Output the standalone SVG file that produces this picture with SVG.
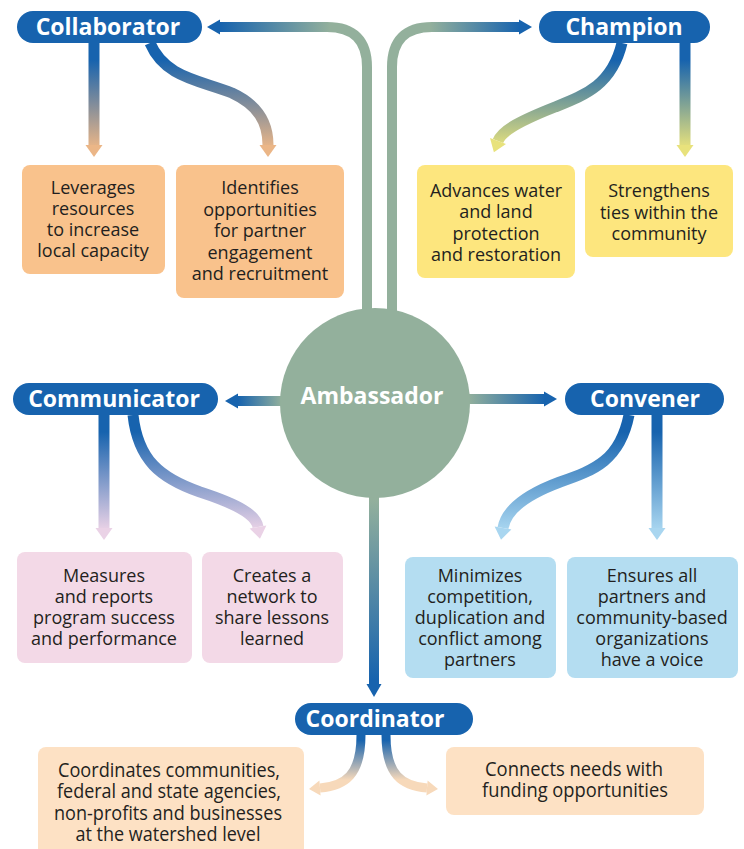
<svg xmlns="http://www.w3.org/2000/svg" width="744" height="849" viewBox="0 0 744 849">
<style>
.pill{fill:#1763ae}
.pt{font-family:"Open Sans","Liberation Sans",sans-serif;font-weight:700;font-size:23px;fill:#ffffff;text-anchor:middle}
.bt{font-family:"Open Sans","Liberation Sans",sans-serif;font-weight:500;font-size:18px;fill:#231f20;text-anchor:middle}
.ct{font-family:"Open Sans","Liberation Sans",sans-serif;font-weight:500;font-size:20px;fill:#231f20;text-anchor:middle}
.or{fill:#f9c28c}.ye{fill:#fde67e}.pk{fill:#f3d9e7}.lb{fill:#b4ddf1}.pe{fill:#fde1c4}
.main{fill:none;stroke-width:10}
.sub{fill:none;stroke-width:11}
.cs{fill:none;stroke-width:9}
</style>
<defs>
<linearGradient id="gL" gradientUnits="userSpaceOnUse" x1="220" y1="0" x2="330" y2="0"><stop offset="0" stop-color="#1763ae"/><stop offset="1" stop-color="#93b09c"/></linearGradient>
<linearGradient id="gR" gradientUnits="userSpaceOnUse" x1="430" y1="0" x2="520" y2="0"><stop offset="0" stop-color="#93b09c"/><stop offset="1" stop-color="#1763ae"/></linearGradient>
<linearGradient id="gCm" gradientUnits="userSpaceOnUse" x1="282" y1="0" x2="238" y2="0"><stop offset="0" stop-color="#93b09c"/><stop offset="1" stop-color="#1763ae"/></linearGradient>
<linearGradient id="gCv" gradientUnits="userSpaceOnUse" x1="468" y1="0" x2="545" y2="0"><stop offset="0" stop-color="#93b09c"/><stop offset="1" stop-color="#1763ae"/></linearGradient>
<linearGradient id="gCo" gradientUnits="userSpaceOnUse" x1="0" y1="500" x2="0" y2="680"><stop offset="0" stop-color="#93b09c"/><stop offset="1" stop-color="#1763ae"/></linearGradient>
<linearGradient id="gOr" gradientUnits="userSpaceOnUse" x1="0" y1="60" x2="0" y2="148"><stop offset="0" stop-color="#1763ae"/><stop offset="1" stop-color="#ebb687"/></linearGradient>
<linearGradient id="gYe" gradientUnits="userSpaceOnUse" x1="0" y1="60" x2="0" y2="148"><stop offset="0" stop-color="#1763ae"/><stop offset="1" stop-color="#e8e27c"/></linearGradient>
<linearGradient id="gPk" gradientUnits="userSpaceOnUse" x1="0" y1="432" x2="0" y2="530"><stop offset="0" stop-color="#1763ae"/><stop offset="1" stop-color="#ead2e6"/></linearGradient>
<linearGradient id="gLb" gradientUnits="userSpaceOnUse" x1="0" y1="432" x2="0" y2="530"><stop offset="0" stop-color="#1763ae"/><stop offset="1" stop-color="#a9d6f0"/></linearGradient>
<linearGradient id="gPe" gradientUnits="userSpaceOnUse" x1="0" y1="740" x2="0" y2="780"><stop offset="0" stop-color="#1763ae"/><stop offset="1" stop-color="#f7d9ba"/></linearGradient>
<marker id="aBlue" markerUnits="userSpaceOnUse" markerWidth="16" markerHeight="18" refX="0" refY="8" orient="auto" overflow="visible"><path d="M0,0.5 L13,8 L0,15.5 z" fill="#1763ae"/></marker>
<marker id="aOr" markerUnits="userSpaceOnUse" markerWidth="16" markerHeight="18" refX="0" refY="8.5" orient="auto" overflow="visible"><path d="M0,0 L12,8.5 L0,17 z" fill="#ebb687"/></marker>
<marker id="aYe" markerUnits="userSpaceOnUse" markerWidth="16" markerHeight="18" refX="0" refY="8.5" orient="auto" overflow="visible"><path d="M0,0 L12,8.5 L0,17 z" fill="#e8e27c"/></marker>
<marker id="aPk" markerUnits="userSpaceOnUse" markerWidth="16" markerHeight="18" refX="0" refY="8.5" orient="auto" overflow="visible"><path d="M0,0 L12,8.5 L0,17 z" fill="#ead2e6"/></marker>
<marker id="aLb" markerUnits="userSpaceOnUse" markerWidth="16" markerHeight="18" refX="0" refY="8.5" orient="auto" overflow="visible"><path d="M0,0 L12,8.5 L0,17 z" fill="#a9d6f0"/></marker>
<marker id="aPe" markerUnits="userSpaceOnUse" markerWidth="16" markerHeight="18" refX="0" refY="7.5" orient="auto" overflow="visible"><path d="M0,0 L11,7.5 L0,15 z" fill="#f7d9ba"/></marker>
</defs>
<rect width="744" height="849" fill="#ffffff"/>
<g id="connectors">
<path class="main" stroke="url(#gL)" d="M367,312 V67 Q367,27 327,27 H220" marker-end="url(#aBlue)"/>
<path class="main" stroke="url(#gR)" d="M392,312 V67 Q392,27 432,27 H519" marker-end="url(#aBlue)"/>
<path class="main" stroke="url(#gCm)" d="M284,401 H238" marker-end="url(#aBlue)"/>
<path class="main" stroke="url(#gCv)" d="M466,399 H544" marker-end="url(#aBlue)"/>
<path class="main" stroke="url(#gCo)" d="M374,494 V684" marker-end="url(#aBlue)"/>
<path class="sub" stroke="url(#gOr)" d="M94,43 V145" marker-end="url(#aOr)"/>
<path class="sub" stroke="url(#gOr)" d="M150,43 C165,78 200,80 232,93 C258,105 268,122 268,145" marker-end="url(#aOr)"/>
<path class="sub" stroke="url(#gYe)" d="M685,43 V145" marker-end="url(#aYe)"/>
<path class="sub" stroke="url(#gYe)" d="M622,43 C612,85 585,95 555,107 C522,120 502,130 498,141" marker-end="url(#aYe)"/>
<path class="sub" stroke="url(#gPk)" d="M104,415 V528" marker-end="url(#aPk)"/>
<path class="sub" stroke="url(#gPk)" d="M133,415 C138,460 160,478 200,492 C240,505 256,515 258,527" marker-end="url(#aPk)"/>
<path class="sub" stroke="url(#gLb)" d="M657,415 V528" marker-end="url(#aLb)"/>
<path class="sub" stroke="url(#gLb)" d="M629,415 C620,460 595,470 560,482 C525,495 506,510 503,528" marker-end="url(#aLb)"/>
<path class="cs" stroke="url(#gPe)" d="M361,735 C361,775 345,786 320,788" marker-end="url(#aPe)"/>
<path class="cs" stroke="url(#gPe)" d="M386,735 C386,775 402,786 427,788" marker-end="url(#aPe)"/>
</g>
<g id="ambassador">
<circle cx="375" cy="403" r="95" fill="#93b09c"/>
<text class="pt" x="372" y="404" fill="#f2f5f2">Ambassador</text>
</g>
<g id="collaborator">
<rect class="pill" x="17" y="11" width="185" height="32" rx="16"/>
<text class="pt" x="108" y="35">Collaborator</text>
</g>
<g id="champion">
<rect class="pill" x="539" y="11" width="171" height="32" rx="16"/>
<text class="pt" x="624" y="35">Champion</text>
</g>
<g id="communicator">
<rect class="pill" x="13" y="383" width="205" height="32" rx="16"/>
<text class="pt" x="114" y="407">Communicator</text>
</g>
<g id="convener">
<rect class="pill" x="565" y="383" width="159" height="32" rx="16"/>
<text class="pt" x="645" y="407">Convener</text>
</g>
<g id="coordinator">
<rect class="pill" x="295" y="703" width="178" height="32" rx="16"/>
<text class="pt" x="375" y="727">Coordinator</text>
</g>
<g id="leverages">
<rect class="or" x="22" y="165" width="143" height="109" rx="8"/>
<text class="bt" x="93"><tspan x="93" y="194">Leverages</tspan><tspan x="93" y="215">resources</tspan><tspan x="93" y="236">to increase</tspan><tspan x="93" y="257">local capacity</tspan></text>
</g>
<g id="identifies">
<rect class="or" x="176" y="165" width="168" height="133" rx="8"/>
<text class="bt" x="260"><tspan x="260" y="194">Identifies</tspan><tspan x="260" y="215.5">opportunities</tspan><tspan x="260" y="237">for partner</tspan><tspan x="260" y="258.5">engagement</tspan><tspan x="260" y="280">and recruitment</tspan></text>
</g>
<g id="advances">
<rect class="ye" x="417" y="165" width="158" height="113" rx="8"/>
<text class="bt" x="496"><tspan x="496" y="197">Advances water</tspan><tspan x="496" y="218">and land</tspan><tspan x="496" y="239.5">protection</tspan><tspan x="496" y="261">and restoration</tspan></text>
</g>
<g id="strengthens">
<rect class="ye" x="585" y="165" width="148" height="92" rx="8"/>
<text class="bt" x="659"><tspan x="659" y="197">Strengthens</tspan><tspan x="659" y="218.5">ties within the</tspan><tspan x="659" y="240">community</tspan></text>
</g>
<g id="measures">
<rect class="pk" x="17" y="552" width="175" height="111" rx="8"/>
<text class="bt" x="104"><tspan x="104" y="582">Measures</tspan><tspan x="104" y="603">and reports</tspan><tspan x="104" y="624">program success</tspan><tspan x="104" y="645">and performance</tspan></text>
</g>
<g id="creates">
<rect class="pk" x="202" y="552" width="141" height="111" rx="8"/>
<text class="bt" x="272"><tspan x="272" y="582">Creates a</tspan><tspan x="272" y="603">network to</tspan><tspan x="272" y="624">share lessons</tspan><tspan x="272" y="645">learned</tspan></text>
</g>
<g id="minimizes">
<rect class="lb" x="405" y="557" width="151" height="121" rx="8"/>
<text class="bt" x="480"><tspan x="480" y="582">Minimizes</tspan><tspan x="480" y="603">competition,</tspan><tspan x="480" y="624">duplication and</tspan><tspan x="480" y="645">conflict among</tspan><tspan x="480" y="666">partners</tspan></text>
</g>
<g id="ensures">
<rect class="lb" x="567" y="557" width="171" height="121" rx="8"/>
<text class="bt" x="652"><tspan x="652" y="582">Ensures all</tspan><tspan x="652" y="603">partners and</tspan><tspan x="652" y="624">community-based</tspan><tspan x="652" y="645">organizations</tspan><tspan x="652" y="666">have a voice</tspan></text>
</g>
<g id="coordinates">
<rect class="pe" x="38" y="747" width="266" height="112" rx="8"/>
<text class="ct" x="169" y="777" textLength="222" lengthAdjust="spacingAndGlyphs">Coordinates communities,</text>
<text class="ct" x="169" y="798.3" textLength="224" lengthAdjust="spacingAndGlyphs">federal and state agencies,</text>
<text class="ct" x="168" y="819.7" textLength="228" lengthAdjust="spacingAndGlyphs">non-profits and businesses</text>
<text class="ct" x="168" y="841" textLength="185" lengthAdjust="spacingAndGlyphs">at the watershed level</text>
</g>
<g id="connects">
<rect class="pe" x="446" y="747" width="258" height="68" rx="8"/>
<text class="ct" x="574" y="776" textLength="178" lengthAdjust="spacingAndGlyphs">Connects needs with</text>
<text class="ct" x="575" y="797" textLength="186" lengthAdjust="spacingAndGlyphs">funding opportunities</text>
</g>
</svg>
